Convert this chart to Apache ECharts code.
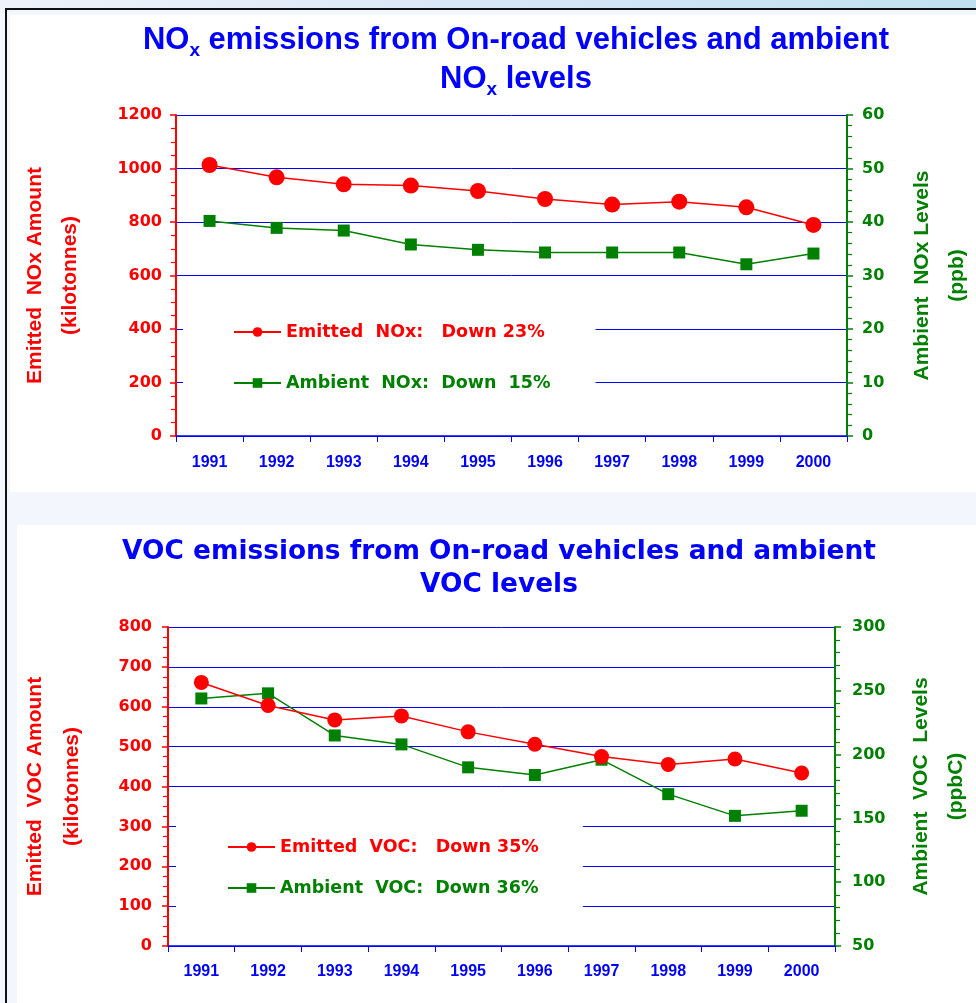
<!DOCTYPE html>
<html>
<head>
<meta charset="utf-8">
<script src="https://cdn.jsdelivr.net/npm/echarts@6/dist/echarts.min.js"></script>
<style>
  html, body { margin: 0; padding: 0; }
  body { width: 976px; height: 1003px; position: relative; overflow: hidden; background: #f3f6fc; }
  .strip { position: absolute; left: 0; top: 0; width: 976px; height: 9px;
           background: linear-gradient(90deg, #eef3fb 0%, #d6e6f6 50%, #bfe2f0 100%); }
  .hline { position: absolute; left: 5px; top: 8px; width: 971px; height: 2px; background: #111; }
  .vline { position: absolute; left: 5px; top: 8px; width: 2px; height: 995px; background: #111; }
  .panel { position: absolute; background: #fff; }
  #chart { position: absolute; left: 0; top: 0; width: 976px; height: 1003px; }
</style>
</head>
<body>
<div class="strip"></div>
<div class="panel" style="left:10px;top:15px;width:966px;height:477px;"></div>
<div class="panel" style="left:17px;top:525px;width:959px;height:478px;"></div>
<div class="hline"></div>
<div class="vline"></div>
<div id="chart"></div>
<script>
// data
const years = ['1991', '1992', '1993', '1994', '1995', '1996', '1997', '1998', '1999', '2000'];
const noxEmitted = [1013, 967, 941, 936, 916, 886, 865, 876, 855, 789];   // kilotonnes
const noxAmbient = [40.2, 38.9, 38.4, 35.8, 34.8, 34.3, 34.3, 34.3, 32.1, 34.1]; // ppb
const vocEmitted = [661, 603, 567, 577, 537, 506, 475, 455, 469, 434];    // kilotonnes
const vocAmbient = [244, 248, 215, 208, 190, 184, 196, 169, 152, 156];    // ppbC

const names = {
  noxE: 'Emitted  NOx:   Down 23%',
  noxA: 'Ambient  NOx:  Down  15%',
  vocE: 'Emitted  VOC:   Down 35%',
  vocA: 'Ambient  VOC:  Down 36%'
};

const RED = '#ff0000';
const GREEN = '#008000';
const BLUE = '#0000ff';
const verdana = '"DejaVu Sans", Verdana, sans-serif';
const arial = '"Liberation Sans", Arial, sans-serif';

const chart = echarts.init(document.getElementById('chart'));

// shared pieces for the axes
const xAxisBase = (gridIndex, margin) => ({
  type: 'category',
  gridIndex,
  data: years,
  axisLine: { lineStyle: { color: BLUE, width: 1.5 } },
  axisTick: { show: true, length: 6, lineStyle: { color: BLUE } },
  axisLabel: { color: BLUE, fontFamily: arial, fontWeight: 'bold', fontSize: 16, margin }
});

const yLabel = (color, margin) => ({
  color, margin,
  fontFamily: verdana, fontWeight: 'bold', fontSize: 16,
  formatter: v => String(v)
});

const yAxisBase = (gridIndex, color, opts) => Object.assign({
  type: 'value',
  gridIndex,
  nameLocation: 'middle',
  nameRotate: 90,
  nameTextStyle: { color, fontFamily: arial, fontWeight: 'bold', fontSize: 21, lineHeight: 35 },
  axisLine: { show: true, lineStyle: { color, width: 2 } },
  axisTick: { show: true, length: 6, lineStyle: { color, width: 1.5 } },
  splitLine: { show: false }
}, opts);

const lineSeries = (name, xi, yi, data, color, symbol, size) => ({
  name,
  type: 'line',
  xAxisIndex: xi,
  yAxisIndex: yi,
  data,
  symbol,
  symbolSize: size,
  lineStyle: { color, width: 1.5 },
  itemStyle: { color },
  emphasis: { disabled: true },
  z: symbol === 'rect' ? 3 : 4
});

const legendBase = (data, left, top, gap, padding) => ({
  orient: 'vertical',
  left, top,
  itemGap: gap,
  itemWidth: 47,
  itemHeight: 12,
  padding,
  backgroundColor: '#fff',
  selectedMode: false,
  data,
  textStyle: { fontFamily: verdana, fontWeight: 'bold', fontSize: 17.5 }
});

chart.setOption({
  animation: false,
  title: [
    {
      left: 511, top: 16, textAlign: 'center',
      text: '{a|NO}{s|x}{a| emissions from On-road vehicles and ambient}\n{a|NO}{s|x}{a| levels}',
      textStyle: {
        rich: {
          a: { color: BLUE, fontFamily: arial, fontWeight: 'bold', fontSize: 31, lineHeight: 39 },
          s: { color: BLUE, fontFamily: arial, fontWeight: 'bold', fontSize: 19, lineHeight: 29, verticalAlign: 'bottom' }
        }
      }
    },
    {
      left: 494, top: 531, textAlign: 'center',
      text: 'VOC emissions from On-road vehicles and ambient\nVOC levels',
      textStyle: { color: BLUE, fontFamily: verdana, fontWeight: 'bold', fontSize: 26.4, lineHeight: 33 }
    }
  ],
  legend: [
    legendBase([
      { name: names.noxE, textStyle: { color: RED } },
      { name: names.noxA, textStyle: { color: GREEN } }
    ], 183, 295, 33, [28, 45, 28, 50]),
    legendBase([
      { name: names.vocE, textStyle: { color: RED } },
      { name: names.vocA, textStyle: { color: GREEN } }
    ], 176, 812, 23, [26, 44, 19, 51])
  ],
  grid: [
    { left: 176, right: 129, top: 115, bottom: 567, containLabel: false, outerBoundsMode: 'none' },
    { left: 168, right: 141, top: 627, bottom: 57, containLabel: false, outerBoundsMode: 'none' }
  ],
  xAxis: [xAxisBase(0, 19), xAxisBase(1, 18)],
  yAxis: [
    yAxisBase(0, RED, {
      min: 0, max: 1200, interval: 200,
      name: 'Emitted  NOx Amount\n(kilotonnes)', nameGap: 88,
      minorTick: { show: true, splitNumber: 4, length: 5, lineStyle: { color: RED, width: 1.2 } },
      axisLabel: yLabel(RED, 14),
      splitLine: { show: true, lineStyle: { color: BLUE, width: 1 } }
    }),
    yAxisBase(0, GREEN, {
      position: 'right',
      min: 0, max: 60, interval: 10,
      name: 'Ambient  NOx Levels\n(ppb)', nameGap: 58,
      minorTick: { show: true, splitNumber: 5, length: 5, lineStyle: { color: GREEN, width: 1.2 } },
      axisLabel: yLabel(GREEN, 15)
    }),
    yAxisBase(1, RED, {
      min: 0, max: 800, interval: 100,
      name: 'Emitted  VOC Amount\n(kilotonnes)', nameGap: 77,
      nameTextStyle: { color: RED, fontFamily: arial, fontWeight: 'bold', fontSize: 21, lineHeight: 37 },
      minorTick: { show: true, splitNumber: 4, length: 5, lineStyle: { color: RED, width: 1.2 } },
      axisLabel: yLabel(RED, 16),
      splitLine: { show: true, lineStyle: { color: BLUE, width: 1 } }
    }),
    yAxisBase(1, GREEN, {
      position: 'right',
      min: 50, max: 300, interval: 50,
      name: 'Ambient  VOC  Levels\n(ppbC)', nameGap: 69,
      minorTick: { show: true, splitNumber: 5, length: 5, lineStyle: { color: GREEN, width: 1.2 } },
      axisLabel: yLabel(GREEN, 17)
    })
  ],
  series: [
    lineSeries(names.noxE, 0, 0, noxEmitted, RED, 'circle', 16),
    lineSeries(names.noxA, 0, 1, noxAmbient, GREEN, 'rect', 12),
    lineSeries(names.vocE, 1, 2, vocEmitted, RED, 'circle', 15),
    lineSeries(names.vocA, 1, 3, vocAmbient, GREEN, 'rect', 12)
  ]
});
</script>
</body>
</html>
